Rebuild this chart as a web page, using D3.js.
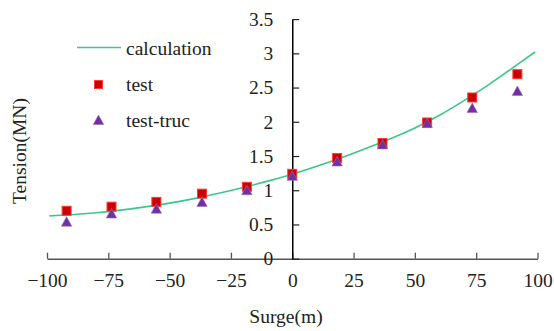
<!DOCTYPE html>
<html>
<head>
<meta charset="utf-8">
<script src="https://cdn.jsdelivr.net/npm/d3@7"></script>
<style>
  body { margin: 0; background: #fff; }
  svg { display: block; }
  svg text { font-family: "Liberation Serif", "Times New Roman", serif; }
</style>
</head>
<body>
<div id="chart"></div>
<script>
// --- données ---
const surge = [-92, -73.7, -55.4, -36.8, -18.5, 0, 18.3, 36.8, 55, 73.4, 91.8];
const testValues = [0.70, 0.76, 0.83, 0.95, 1.05, 1.24, 1.47, 1.69, 1.99, 2.355, 2.695];
const trucValues = [0.54, 0.66, 0.73, 0.83, 1.00, 1.21, 1.42, 1.67, 1.98, 2.20, 2.45];

// courbe calculée
const calcSurge = [-99, -90, -80, -70, -60, -50, -40, -30, -20, -10, 0, 10, 20, 30, 40, 50, 60, 70, 80, 90, 99];
const calcTension = [0.625, 0.642, 0.671, 0.71, 0.757, 0.812, 0.878, 0.955, 1.04, 1.133, 1.235, 1.35, 1.475, 1.61, 1.752, 1.91, 2.095, 2.31, 2.54, 2.79, 3.02];

const xTicks = [-100, -75, -50, -25, 0, 25, 50, 75, 100];
const yTicks = [0, 0.5, 1, 1.5, 2, 2.5, 3, 3.5];

const width = 554, height = 331;
const fontSize = 19.5;

const svg = d3.select("#chart").append("svg")
  .attr("width", width).attr("height", height);

const x = d3.scaleLinear().domain([-100, 100]).range([47, 537.5]);
const y = d3.scaleLinear().domain([0, 3.5]).range([258.7, 19.1]);

// axe X (en bas, graduations vers le haut)
const xAxis = svg.append("g").attr("transform", `translate(0,${y(0)})`)
  .call(d3.axisBottom(x).tickValues(xTicks).tickSizeInner(-6).tickSizeOuter(0)
    .tickFormat(d => d < 0 ? "\u2212" + Math.abs(d) : d));
xAxis.attr("font-family", null).attr("font-size", fontSize);
xAxis.select(".domain").attr("stroke", "#555").attr("stroke-width", 1.5);
xAxis.selectAll(".tick line").attr("stroke", "#555").attr("stroke-width", 1.3);
xAxis.selectAll(".tick text").attr("y", 14).attr("dy", "0.71em").attr("fill", "#222");

// axe Y (à x=0, graduations vers la droite)
const yAxis = svg.append("g").attr("transform", `translate(${x(0)},0)`)
  .call(d3.axisRight(y).tickValues(yTicks).tickSizeInner(7).tickSizeOuter(0)
    .tickFormat(d => d));
yAxis.attr("font-family", null).attr("font-size", fontSize);
yAxis.select(".domain").attr("stroke", "#000").attr("stroke-width", 1.5);
yAxis.selectAll(".tick line").attr("stroke", "#222").attr("stroke-width", 1.2);
yAxis.selectAll(".tick text").attr("x", -19).attr("text-anchor", "end").attr("fill", "#222");

// courbe "calculation"
const line = d3.line()
  .x((d, i) => x(calcSurge[i]))
  .y(d => y(d))
  .curve(d3.curveNatural);
svg.append("path").datum(calcTension)
  .attr("d", line)
  .attr("fill", "none")
  .attr("stroke", "#3cc887")
  .attr("stroke-width", 1.6);

// marqueurs
const sq = 9;
const triPath = "M0,-5L5.2,4.5L-5.2,4.5Z";

svg.append("g").selectAll("rect").data(testValues).enter().append("rect")
  .attr("x", (d, i) => x(surge[i]) - sq / 2)
  .attr("y", d => y(d) - sq / 2)
  .attr("width", sq).attr("height", sq)
  .attr("fill", "#cc0000").attr("stroke", "#ff3a3a").attr("stroke-width", 1);

svg.append("g").selectAll("path").data(trucValues).enter().append("path")
  .attr("d", triPath)
  .attr("transform", (d, i) => `translate(${x(surge[i])},${y(d)})`)
  .attr("fill", "#7030a0").attr("stroke", "#9a6ac0").attr("stroke-width", 0.6);

// légende
const legend = svg.append("g");
legend.append("line")
  .attr("x1", 77).attr("x2", 121).attr("y1", 47.5).attr("y2", 47.5)
  .attr("stroke", "#3cc887").attr("stroke-width", 1.6);
legend.append("rect")
  .attr("x", 98.5 - 4).attr("y", 84.5 - 4).attr("width", 8).attr("height", 8)
  .attr("fill", "#cc0000").attr("stroke", "#ff3a3a").attr("stroke-width", 1);
legend.append("path")
  .attr("d", triPath)
  .attr("transform", "translate(98.5,120)")
  .attr("fill", "#7030a0").attr("stroke", "#9a6ac0").attr("stroke-width", 0.6);

const legendLabels = ["calculation", "test", "test-truc"];
const legendY = [55, 91, 127];
legend.selectAll("text.lab").data(legendLabels).enter().append("text")
  .attr("class", "lab")
  .attr("x", 126)
  .attr("y", (d, i) => legendY[i])
  .attr("font-size", fontSize)
  .attr("fill", "#222")
  .text(d => d);

// titres des axes
svg.append("text")
  .attr("x", 286).attr("y", 323)
  .attr("text-anchor", "middle")
  .attr("font-size", fontSize)
  .attr("fill", "#222")
  .text("Surge(m)");

svg.append("text")
  .attr("transform", "translate(26,151) rotate(-90)")
  .attr("text-anchor", "middle")
  .attr("font-size", fontSize)
  .attr("fill", "#222")
  .text("Tension(MN)");
</script>
</body>
</html>
